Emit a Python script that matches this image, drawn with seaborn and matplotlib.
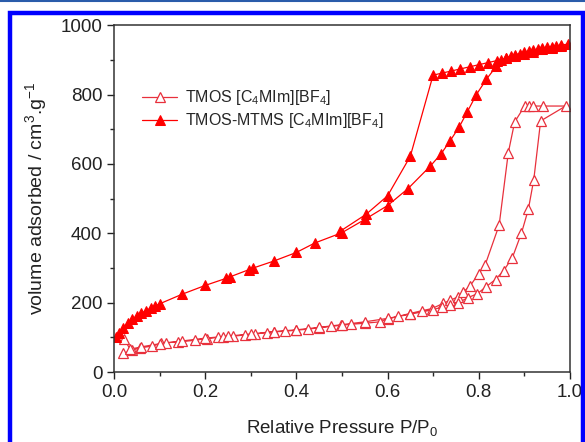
import numpy as np
import pandas as pd
import matplotlib
matplotlib.use("Agg")
import matplotlib.pyplot as plt
import seaborn as sns
from matplotlib.patches import Rectangle
from matplotlib.lines import Line2D
from matplotlib.ticker import MultipleLocator

# TMOS [C4MIm][BF4] - adsorption then desorption (open triangles)
tmos_ads_p = [0.02, 0.039, 0.057, 0.083, 0.104, 0.115, 0.141, 0.178, 0.203, 0.228, 0.24, 0.262,
              0.287, 0.31, 0.335, 0.35, 0.375, 0.40, 0.426, 0.45, 0.476, 0.497, 0.52, 0.55,
              0.583, 0.60, 0.624, 0.649, 0.675, 0.697, 0.722, 0.737, 0.755, 0.766, 0.781,
              0.80, 0.814, 0.845, 0.865, 0.879, 0.901, 0.91, 0.92, 0.941, 0.991]
tmos_ads_v = [54, 63, 70, 75, 83, 85, 87, 92, 97, 100, 102, 104,
              107, 110, 114, 116, 118, 121, 124, 128, 132, 135, 138, 141,
              145, 153, 161, 169, 177, 183, 198, 207, 217, 231, 248,
              284, 308, 424, 632, 721, 767, 767, 767, 767, 767]
tmos_des_p = [0.936, 0.921, 0.909, 0.894, 0.874, 0.855, 0.837, 0.816, 0.797, 0.777, 0.755,
              0.737, 0.72, 0.70, 0.65, 0.60, 0.55, 0.50, 0.45, 0.40, 0.35, 0.30, 0.25, 0.20,
              0.15, 0.10, 0.06, 0.035, 0.022]
tmos_des_v = [724, 555, 469, 401, 330, 293, 267, 246, 226, 215, 200,
              195, 188, 180, 167, 155, 145, 137, 129, 122, 117, 110, 104, 98,
              90, 82, 73, 66, 97]

# TMOS-MTMS [C4MIm][BF4] - adsorption then desorption (filled triangles)
mtms_ads_p = [0.005, 0.01, 0.02, 0.03, 0.04, 0.05, 0.06, 0.07, 0.08, 0.09, 0.10, 0.15, 0.20,
              0.245, 0.255, 0.295, 0.305, 0.35, 0.40, 0.44, 0.50, 0.55, 0.60, 0.645, 0.694,
              0.718, 0.737, 0.757, 0.775, 0.795, 0.817, 0.839, 0.85, 0.86, 0.87, 0.88, 0.89,
              0.90, 0.91, 0.92, 0.93, 0.94, 0.95, 0.96, 0.97, 0.98, 0.995]
mtms_ads_v = [100, 112, 128, 142, 152, 162, 170, 177, 184, 190, 197, 225, 250,
              270, 275, 295, 300, 320, 345, 372, 402, 440, 480, 529, 594,
              630, 666, 706, 750, 800, 844, 882, 900, 905, 910, 915, 918,
              922, 925, 928, 931, 934, 936, 938, 940, 943, 945]
mtms_des_p = [0.98, 0.96, 0.94, 0.92, 0.90, 0.88, 0.86, 0.84, 0.82, 0.80, 0.78, 0.76, 0.74,
              0.72, 0.70, 0.65, 0.60, 0.553, 0.496]
mtms_des_v = [940, 935, 930, 924, 918, 912, 905, 898, 892, 886, 880, 874, 868,
              862, 856, 622, 508, 455, 406]

tmos = pd.DataFrame({"p": tmos_ads_p + tmos_des_p, "v": tmos_ads_v + tmos_des_v})
mtms = pd.DataFrame({"p": mtms_ads_p + mtms_des_p, "v": mtms_ads_v + mtms_des_v})

sns.set_style("ticks")
plt.rcParams["font.family"] = ["Liberation Sans", "DejaVu Sans"]
plt.rcParams["mathtext.fontset"] = "custom"
plt.rcParams["mathtext.rm"] = "Liberation Sans"
plt.rcParams["mathtext.it"] = "Liberation Sans"

fig = plt.figure(figsize=(5.85, 4.42), dpi=100)
ax = fig.add_axes([0.195, 0.158, 0.779, 0.785])

sns.lineplot(data=tmos, x="p", y="v", sort=False, estimator=None, ax=ax,
             color="#e8303c", lw=0.9, marker="^", markersize=7,
             markerfacecolor="white", markeredgecolor="#e8303c", markeredgewidth=0.9,
             label="TMOS [C$_4$MIm][BF$_4$]")
sns.lineplot(data=mtms, x="p", y="v", sort=False, estimator=None, ax=ax,
             color="#ff0000", lw=0.9, marker="^", markersize=7,
             markerfacecolor="#ff0000", markeredgecolor="#ff0000",
             label="TMOS-MTMS [C$_4$MIm][BF$_4$]")

ax.set_xlim(0, 1.0)
ax.set_ylim(0, 1000)
ax.xaxis.set_major_locator(MultipleLocator(0.2))
ax.xaxis.set_minor_locator(MultipleLocator(0.1))
ax.yaxis.set_major_locator(MultipleLocator(200))
ax.yaxis.set_minor_locator(MultipleLocator(100))
ax.set_xticks([0, 0.2, 0.4, 0.6, 0.8, 1.0])
ax.set_xticklabels(["0.0", "0.2", "0.4", "0.6", "0.8", "1.0"])
ax.tick_params(which="major", direction="out", length=5, width=1, labelsize=13.5, colors="#222222")
ax.tick_params(which="minor", direction="out", length=3, width=1)
for s in ax.spines.values():
    s.set_color("#333333")
    s.set_linewidth(1.1)

ax.set_xlabel("Relative Pressure P/P$_0$", fontsize=13.5, labelpad=12, color="#222222")
ax.set_ylabel("volume adsorbed / cm$^3$.g$^{-1}$", fontsize=14, labelpad=8, color="#222222")

ax.legend(loc="upper left", bbox_to_anchor=(0.03, 0.86), frameon=False, fontsize=11.5,
          handlelength=2.2, labelspacing=0.25, handletextpad=0.5)

# blue page frame
fig.patches.append(Rectangle((10 / 585, -0.05), 573 / 585, (442 - 13) / 442 + 0.05,
                             transform=fig.transFigure, fill=False, edgecolor="#0000ff",
                             linewidth=3.2, zorder=10))
fig.lines.append(Line2D([0, 1], [1 - 1 / 442, 1 - 1 / 442], transform=fig.transFigure,
                        color="#2a5caa", linewidth=1.5))

fig.savefig("out.png", dpi=100)
